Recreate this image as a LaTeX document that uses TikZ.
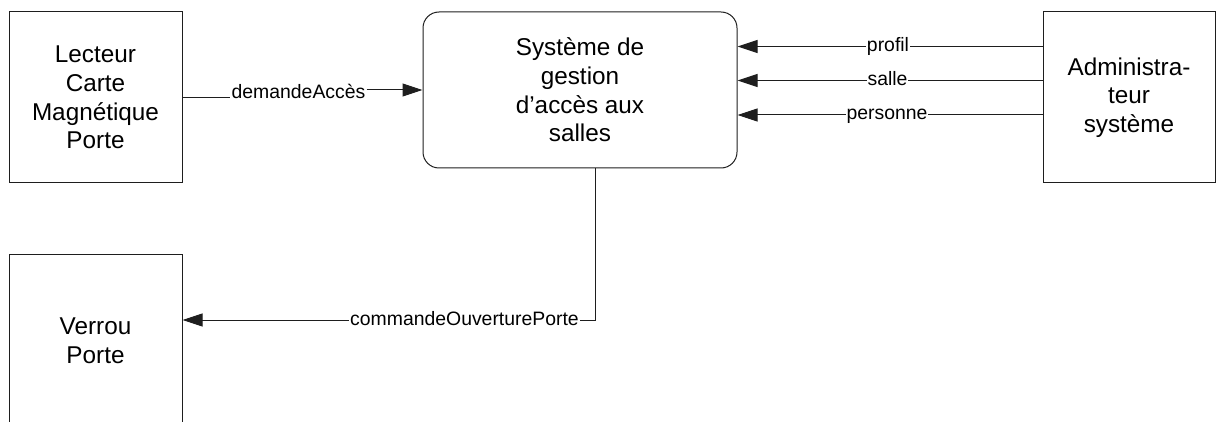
\documentclass[tikz,border=0pt]{standalone}
\usepackage{fontspec}
\setmainfont{Liberation Sans}
\usetikzlibrary{arrows.meta}
\definecolor{linec}{RGB}{30,30,30}
\newcommand\bxfont{\fontsize{24.3}{28.7}\selectfont}
\newcommand\lbfont{\fontsize{19.4}{23}\selectfont}
\begin{document}
\begin{tikzpicture}[x=1pt,y=-1pt,
  ent/.style={draw=linec, line width=1pt, minimum width=173pt, minimum height=171pt, inner sep=0pt, align=center, font=\bxfont},
  lbl/.style={fill=white, inner sep=1pt, font=\lbfont, anchor=base},
  arr/.style={draw=linec, line width=1pt, -{Triangle[length=20pt,width=13pt]}},
  ln/.style={draw=linec, line width=1pt}]
\useasboundingbox (0,0) rectangle (1216,422);
\clip (0,0) rectangle (1216,422);
% entities
\node[ent] (L) at (95.5,97.5) {Lecteur\\Carte\\Magnétique\\Porte};
\node[ent, minimum width=314pt, minimum height=156pt, rounded corners=16pt] (S) at (580,90) {Système de\\gestion\\d’accès aux\\salles};
\node[ent, minimum width=172pt] (A) at (1129,97.5) {Administra-\\teur\\système};
\node[ent] (V) at (95.5,340.5) {Verrou\\Porte};
% free-end coordinates
\coordinate (p1) at (1000,46.5);
\coordinate (p2) at (1000,80.5);
\coordinate (p3) at (1000,115);
\coordinate (k) at (595,320);
% connectors
\draw[arr] (A.west |- p1) -- (S.east |- p1);
\draw[arr] (A.west |- p2) -- (S.east |- p2);
\draw[arr] (A.west |- p3) -- (S.east |- p3);
\draw[arr] (S.south -| k) -- (k) -- (V.east |- k);
% labels
\node[lbl] (l1) at (298.5,99) {demandeAccès};
\draw[ln] (L.east) -- (L.east -| l1.west);
\draw[arr] (l1.east |- S.west) -- (S.west);
\node[lbl] (l2) at (888,51.5) {profil};
\node[lbl] (l3) at (887.5,85.5) {salle};
\node[lbl] (l4) at (887,120) {personne};
\node[lbl] (l5) at (464.5,325) {commandeOuverturePorte};
\end{tikzpicture}
\end{document}
